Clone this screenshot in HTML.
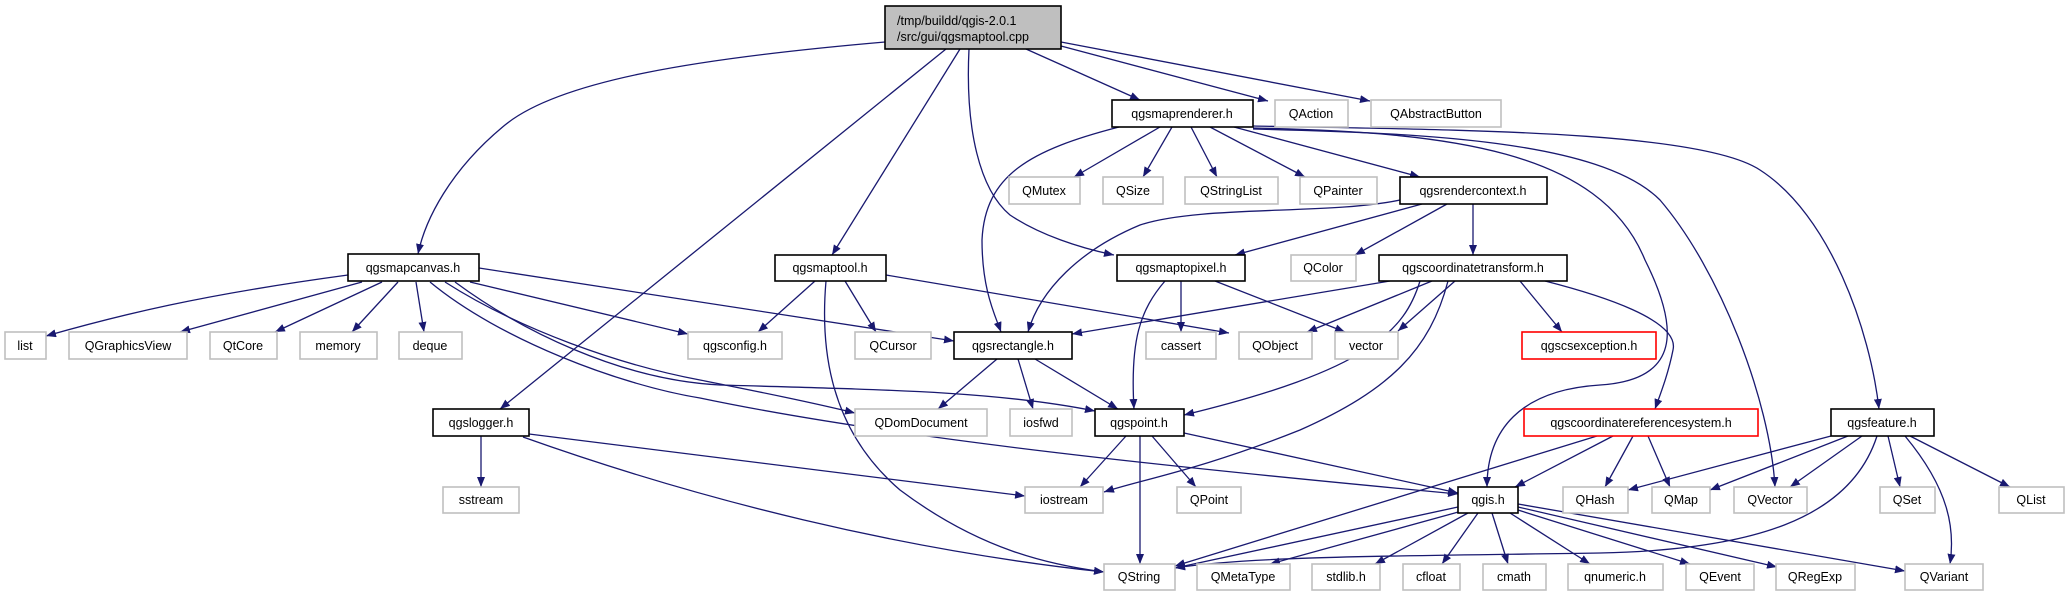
<!DOCTYPE html>
<html><head><meta charset="utf-8"><style>
html,body{margin:0;padding:0;background:#fff;}
svg{display:block}
text{font-family:"Liberation Sans","DejaVu Sans",sans-serif;font-size:12.5px;fill:#000}
.e{fill:none;stroke:#191970;stroke-width:1.3;marker-end:url(#a)}
.d{fill:#fff;stroke:#000;stroke-width:1.6}
.x{fill:#fff;stroke:#bfbfbf;stroke-width:1.6}
.r{fill:#fff;stroke:#ff0000;stroke-width:1.6}
</style></head><body>
<svg width="2068" height="597" viewBox="0 0 2068 597" xmlns="http://www.w3.org/2000/svg">
<defs><marker id="a" viewBox="0 0 10 8" refX="10" refY="4" markerWidth="10" markerHeight="8" markerUnits="userSpaceOnUse" orient="auto"><path d="M0,0 L10,4 L0,8 z" fill="#191970"/></marker></defs>
<g>
<!-- root edges -->
<path class="e" d="M885,42 C700,58 560,80 505,125 C450,170 425,220 418,254"/>
<path class="e" d="M946,49 L500,409"/>
<path class="e" d="M960,49 L832,255"/>
<path class="e" d="M969,49 C965,130 980,190 1010,215 C1040,235 1080,248 1114,255"/>
<path class="e" d="M1026,49 L1140,100"/>
<path class="e" d="M1061,46 L1268,101"/>
<path class="e" d="M1061,42 L1370,101"/>
<!-- maprenderer -->
<path class="e" d="M1160,127 L1074,177"/>
<path class="e" d="M1172,127 L1143,177"/>
<path class="e" d="M1191,127 L1217,177"/>
<path class="e" d="M1210,127 L1305,177"/>
<path class="e" d="M1234,127 L1420,177"/>
<path class="e" d="M1119,127 C1030,150 985,175 982,240 C982,290 995,315 1001,332"/>
<path class="e" d="M1253,128 C1450,132 1600,150 1645,260 C1680,330 1680,380 1600,385 C1520,390 1487,430 1487,487"/>
<path class="e" d="M1253,129 C1420,133 1600,140 1660,200 C1720,270 1770,400 1775,487"/>
<path class="e" d="M1253,126 C1450,130 1700,130 1760,170 C1830,215 1870,330 1879,409"/>
<!-- rendercontext -->
<path class="e" d="M1422,204 L1235,255"/>
<path class="e" d="M1447,204 L1355,255"/>
<path class="e" d="M1473,204 L1473,255"/>
<path class="e" d="M1400,200 C1330,215 1200,205 1140,225 C1080,250 1040,290 1028,332"/>
<!-- coordinatetransform -->
<path class="e" d="M1390,281 L1072,334"/>
<path class="e" d="M1432,281 L1307,332"/>
<path class="e" d="M1455,281 L1398,331"/>
<path class="e" d="M1420,281 C1405,330 1370,370 1184,415"/>
<path class="e" d="M1448,281 C1430,350 1390,390 1300,430 C1200,470 1140,480 1104,492"/>
<path class="e" d="M1520,281 L1562,332"/>
<path class="e" d="M1545,281 C1600,295 1680,320 1673,350 C1668,375 1660,395 1655,409"/>
<!-- maptopixel -->
<path class="e" d="M1181,281 L1181,332"/>
<path class="e" d="M1215,281 L1345,332"/>
<path class="e" d="M1165,281 C1140,310 1130,340 1134,409"/>
<!-- maptool -->
<path class="e" d="M815,281 L758,332"/>
<path class="e" d="M845,281 L876,332"/>
<path class="e" d="M886,275 L1229,333"/>
<path class="e" d="M826,281 C820,350 830,430 900,490 C980,550 1050,565 1104,572"/>
<!-- mapcanvas -->
<path class="e" d="M348,275 C200,295 120,315 46,336"/>
<path class="e" d="M362,282 L180,332"/>
<path class="e" d="M382,282 L275,332"/>
<path class="e" d="M398,282 L352,332"/>
<path class="e" d="M416,282 L424,332"/>
<path class="e" d="M470,282 L688,334"/>
<path class="e" d="M479,268 L954,341"/>
<path class="e" d="M455,282 C520,330 620,380 720,385 C900,390 1000,392 1095,411"/>
<path class="e" d="M445,282 C520,330 620,365 700,380 C760,392 810,402 855,413"/>
<path class="e" d="M430,282 C500,340 620,385 700,398 C900,440 1200,470 1458,494"/>
<!-- logger -->
<path class="e" d="M481,436 L481,487"/>
<path class="e" d="M529,434 L1025,496"/>
<path class="e" d="M523,437 C700,500 900,550 1104,572"/>
<!-- rectangle -->
<path class="e" d="M997,359 L938,409"/>
<path class="e" d="M1018,359 L1033,409"/>
<path class="e" d="M1035,359 L1118,409"/>
<!-- point -->
<path class="e" d="M1126,436 L1080,487"/>
<path class="e" d="M1152,436 L1196,487"/>
<path class="e" d="M1140,436 L1140,564"/>
<path class="e" d="M1184,433 L1458,493"/>
<!-- qgis -->
<path class="e" d="M1458,507 L1175,568"/>
<path class="e" d="M1462,511 L1270,564"/>
<path class="e" d="M1468,513 L1375,564"/>
<path class="e" d="M1478,513 L1442,564"/>
<path class="e" d="M1492,513 L1508,564"/>
<path class="e" d="M1510,513 L1590,564"/>
<path class="e" d="M1518,510 L1690,564"/>
<path class="e" d="M1518,507 L1777,567"/>
<path class="e" d="M1518,504 L1905,571"/>
<!-- crs -->
<path class="e" d="M1597,436 L1175,566"/>
<path class="e" d="M1613,436 L1515,487"/>
<path class="e" d="M1633,436 L1605,487"/>
<path class="e" d="M1648,436 L1670,487"/>
<!-- feature -->
<path class="e" d="M1831,436 L1628,490"/>
<path class="e" d="M1848,436 L1710,490"/>
<path class="e" d="M1862,436 L1790,487"/>
<path class="e" d="M1888,436 L1900,487"/>
<path class="e" d="M1910,436 L2010,487"/>
<path class="e" d="M1905,436 C1950,490 1955,530 1950,564"/>
<path class="e" d="M1877,436 C1850,520 1750,550 1600,553 C1400,556 1250,556 1175,568"/>
</g>
<g>
<rect x="885" y="6" width="176" height="43" style="fill:#bfbfbf;stroke:#000;stroke-width:1.6"/>
<text x="897" y="25">/tmp/buildd/qgis-2.0.1</text>
<text x="897" y="41">/src/gui/qgsmaptool.cpp</text>
</g>
<g text-anchor="middle">
<rect class="d" x="1112" y="100" width="141" height="27"/><text x="1182" y="118">qgsmaprenderer.h</text>
<rect class="x" x="1275" y="100" width="73" height="27"/><text x="1311" y="118">QAction</text>
<rect class="x" x="1371" y="100" width="130" height="27"/><text x="1436" y="118">QAbstractButton</text>

<rect class="x" x="1009" y="177" width="71" height="27"/><text x="1044" y="195">QMutex</text>
<rect class="x" x="1103" y="177" width="60" height="27"/><text x="1133" y="195">QSize</text>
<rect class="x" x="1185" y="177" width="93" height="27"/><text x="1231" y="195">QStringList</text>
<rect class="x" x="1300" y="177" width="77" height="27"/><text x="1338" y="195">QPainter</text>
<rect class="d" x="1400" y="177" width="147" height="27"/><text x="1473" y="195">qgsrendercontext.h</text>

<rect class="d" x="348" y="254" width="131" height="27"/><text x="413" y="272">qgsmapcanvas.h</text>
<rect class="d" x="775" y="255" width="111" height="26"/><text x="830" y="272">qgsmaptool.h</text>
<rect class="d" x="1117" y="255" width="128" height="26"/><text x="1181" y="272">qgsmaptopixel.h</text>
<rect class="x" x="1291" y="255" width="65" height="26"/><text x="1323" y="272">QColor</text>
<rect class="d" x="1379" y="255" width="188" height="26"/><text x="1473" y="272">qgscoordinatetransform.h</text>

<rect class="x" x="5" y="332" width="41" height="27"/><text x="25" y="350">list</text>
<rect class="x" x="69" y="332" width="118" height="27"/><text x="128" y="350">QGraphicsView</text>
<rect class="x" x="210" y="332" width="67" height="27"/><text x="243" y="350">QtCore</text>
<rect class="x" x="300" y="332" width="77" height="27"/><text x="338" y="350">memory</text>
<rect class="x" x="399" y="332" width="63" height="27"/><text x="430" y="350">deque</text>
<rect class="x" x="688" y="332" width="94" height="27"/><text x="735" y="350">qgsconfig.h</text>
<rect class="x" x="855" y="332" width="76" height="27"/><text x="893" y="350">QCursor</text>
<rect class="d" x="954" y="332" width="118" height="27"/><text x="1013" y="350">qgsrectangle.h</text>
<rect class="x" x="1146" y="332" width="70" height="27"/><text x="1181" y="350">cassert</text>
<rect class="x" x="1239" y="332" width="73" height="27"/><text x="1275" y="350">QObject</text>
<rect class="x" x="1335" y="332" width="63" height="27"/><text x="1366" y="350">vector</text>
<rect class="r" x="1522" y="332" width="134" height="27"/><text x="1589" y="350">qgscsexception.h</text>

<rect class="d" x="433" y="409" width="96" height="27"/><text x="481" y="427">qgslogger.h</text>
<rect class="x" x="855" y="409" width="132" height="27"/><text x="921" y="427">QDomDocument</text>
<rect class="x" x="1010" y="409" width="62" height="27"/><text x="1041" y="427">iosfwd</text>
<rect class="d" x="1095" y="409" width="89" height="27"/><text x="1139" y="427">qgspoint.h</text>
<rect class="r" x="1524" y="409" width="234" height="27"/><text x="1641" y="427">qgscoordinatereferencesystem.h</text>
<rect class="d" x="1831" y="409" width="103" height="27"/><text x="1882" y="427">qgsfeature.h</text>

<rect class="x" x="443" y="487" width="76" height="26"/><text x="481" y="504">sstream</text>
<rect class="x" x="1025" y="487" width="78" height="26"/><text x="1064" y="504">iostream</text>
<rect class="x" x="1177" y="487" width="64" height="26"/><text x="1209" y="504">QPoint</text>
<rect class="d" x="1458" y="487" width="60" height="26"/><text x="1488" y="504">qgis.h</text>
<rect class="x" x="1563" y="487" width="65" height="26"/><text x="1595" y="504">QHash</text>
<rect class="x" x="1652" y="487" width="58" height="26"/><text x="1681" y="504">QMap</text>
<rect class="x" x="1734" y="487" width="73" height="26"/><text x="1770" y="504">QVector</text>
<rect class="x" x="1880" y="487" width="55" height="26"/><text x="1907" y="504">QSet</text>
<rect class="x" x="1999" y="487" width="65" height="26"/><text x="2031" y="504">QList</text>

<rect class="x" x="1104" y="564" width="71" height="26"/><text x="1139" y="581">QString</text>
<rect class="x" x="1197" y="564" width="93" height="26"/><text x="1243" y="581">QMetaType</text>
<rect class="x" x="1312" y="564" width="68" height="26"/><text x="1346" y="581">stdlib.h</text>
<rect class="x" x="1403" y="564" width="57" height="26"/><text x="1431" y="581">cfloat</text>
<rect class="x" x="1483" y="564" width="63" height="26"/><text x="1514" y="581">cmath</text>
<rect class="x" x="1568" y="564" width="95" height="26"/><text x="1615" y="581">qnumeric.h</text>
<rect class="x" x="1686" y="564" width="68" height="26"/><text x="1720" y="581">QEvent</text>
<rect class="x" x="1776" y="564" width="79" height="26"/><text x="1815" y="581">QRegExp</text>
<rect class="x" x="1905" y="564" width="78" height="26"/><text x="1944" y="581">QVariant</text>
</g>
</svg>
</body></html>
